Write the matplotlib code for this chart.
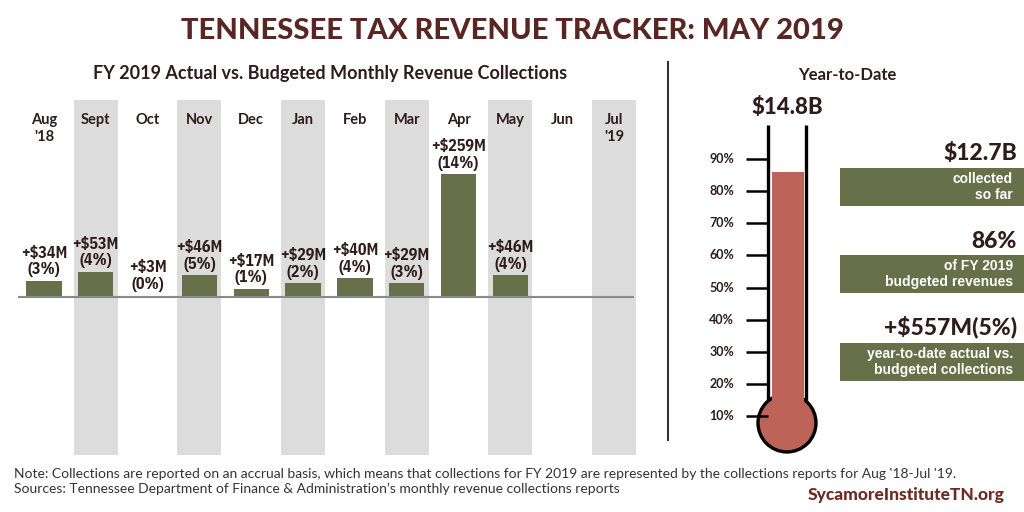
import numpy as np
import matplotlib.pyplot as plt
from matplotlib.patches import Rectangle, Ellipse

months = ['Aug\n\'18', 'Sept', 'Oct', 'Nov', 'Dec', 'Jan', 'Feb', 'Mar', 'Apr', 'May', 'Jun', 'Jul\n\'19']
diff_m = [34, 53, 3, 46, 17, 29, 40, 29, 259, 46]
diff_pct = [3, 4, 0, 5, 1, 2, 4, 3, 14, 4]
shaded = [1, 3, 5, 7, 9, 11]

ytd_budget = '$14.8B'
ytd_collected = '$12.7B'
ytd_pct = 86
ytd_diff = '+$557M(5%)'
therm_ticks = [10, 20, 30, 40, 50, 60, 70, 80, 90]

olive = '#687049'
grey = '#dcdcdc'
red = '#bd6358'
dark = '#2e1c1c'
brown = '#5a2623'
narrow = ['IBM Plex Sans Condensed', 'DejaVu Sans']
geo = ['Lato', 'DejaVu Sans']

W, H = 1024, 512
fig = plt.figure(figsize=(10.24, 5.12), dpi=100)

def rect(l, t, r, b):
    return [l / W, 1 - b / H, (r - l) / W, (b - t) / H]

# overlay for text in pixel space
ov = fig.add_axes([0, 0, 1, 1])
ov.set_xlim(0, W)
ov.set_ylim(H, 0)
ov.axis('off')

ov.text(512, 31, 'TENNESSEE TAX REVENUE TRACKER: MAY 2019', ha='center', va='center',
        fontsize=21, fontweight='black', color=brown, family=geo)
ov.text(330, 73, 'FY 2019 Actual vs. Budgeted Monthly Revenue Collections', ha='center', va='center',
        fontsize=13, fontweight='bold', color=dark, family=geo)
ov.plot([668, 668], [62, 440], color='#333333', lw=1.5)

# monthly bars
ax = fig.add_axes(rect(18, 100, 640, 455))
ax.set_xlim(-0.5, 11.5)
ax.set_ylim(-333, 415)
ax.axis('off')
for i in shaded:
    ax.axvspan(i - 0.425, i + 0.425, color=grey, lw=0, zorder=0)
x = np.arange(len(diff_m))
ax.bar(x, diff_m, width=0.68, color=olive, zorder=2)
ax.hlines(0, -0.56, 11.38, color='#8a8a8a', lw=1.5, zorder=3)
for i, (v, p) in enumerate(zip(diff_m, diff_pct)):
    ax.annotate('+$%dM\n(%d%%)' % (v, p), (i, v), xytext=(0, 2.5), textcoords='offset points',
                ha='center', va='bottom', fontsize=11.5, fontweight='bold', color=dark,
                family=narrow, linespacing=1.15)
for i, m in enumerate(months):
    ax.text(i, 0.962, m, transform=ax.get_xaxis_transform(), ha='center', va='top',
            fontsize=10.5, fontweight='bold', color=dark, family=geo, linespacing=1.25)

# year-to-date thermometer
ov.text(847, 75, 'Year-to-Date', ha='center', va='center', fontsize=12, fontweight='bold',
        color=dark, family=geo)
ov.text(787, 108, ytd_budget, ha='center', va='center', fontsize=16, fontweight='black',
        color=dark, family=geo)

tx = fig.add_axes(rect(700, 120, 820, 460))
tx.set_xlim(700, 820)
tx.set_ylim(-3.74, 102.2)
tx.axis('off')
pp = 3.21  # pixels per percent point
tx.add_patch(Ellipse((787, 7.8), 58, 58 / pp, facecolor=red, edgecolor='black', lw=2.4, zorder=2))
tx.bar(787.5, ytd_pct - 8, bottom=8, width=32, color=red, zorder=3)
tx.vlines([768, 806], 15.1, 100.6, color='black', lw=2.4, zorder=4)
tx.hlines(therm_ticks, 746, 768, color='black', lw=1.8, zorder=4)
for t in therm_ticks:
    tx.text(734, t, '%d%%' % t, ha='right', va='center', fontsize=9, fontweight='bold',
            color=dark, family=geo)

# stat boxes
stats = [(ytd_collected, 'collected\nso far', 154, 168, 206),
         ('%d%%' % ytd_pct, 'of FY 2019\nbudgeted revenues', 241, 255, 293),
         (ytd_diff, 'year-to-date actual vs.\nbudgeted collections', 327, 343, 381)]
for big, small, yb, top, bot in stats:
    ov.text(1017, yb, big, ha='right', va='center', fontsize=16.5, fontweight='black',
            color=dark, family=geo)
    ov.add_patch(Rectangle((840, top), W - 840, bot - top, color=olive, lw=0))
    ov.text(1013, (top + bot) / 2, small, ha='right', va='center', fontsize=10, fontweight='bold',
            color='white', family='Liberation Sans', linespacing=1.2)

# footer
ov.text(14, 474, "Note: Collections are reported on an accrual basis, which means that collections for FY 2019 "
        "are represented by the collections reports for Aug '18-Jul '19.", ha='left', va='center',
        fontsize=10, color='#333333', family=geo, fontweight='normal')
ov.text(14, 489, "Sources: Tennessee Department of Finance & Administration\u2019s monthly revenue collections reports",
        ha='left', va='center', fontsize=10, color='#333333', family=geo, fontweight='normal')
ov.text(1005, 495, 'SycamoreInstituteTN.org', ha='right', va='center', fontsize=12.5,
        fontweight='black', color='#6e2b22', family=geo)

fig.savefig('out.png', dpi=100)
